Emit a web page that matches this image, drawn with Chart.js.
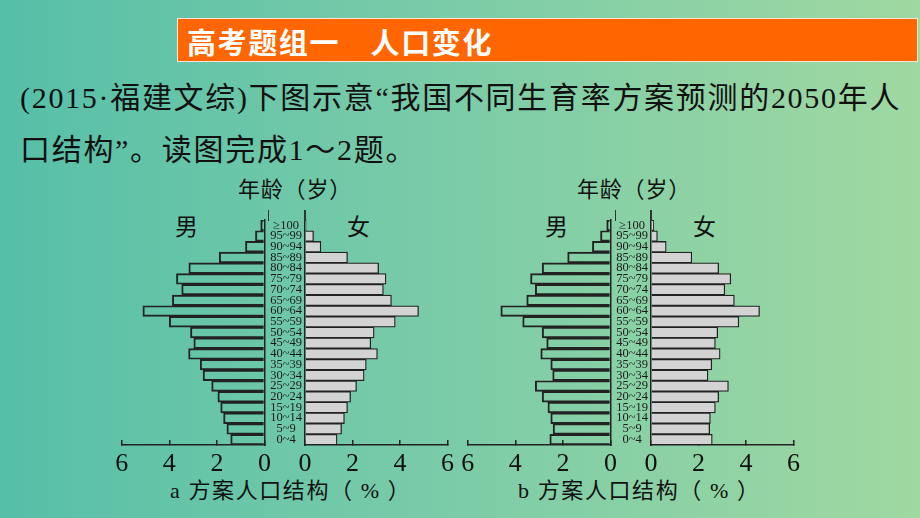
<!DOCTYPE html>
<html>
<head>
<meta charset="utf-8">
<script src="https://cdn.jsdelivr.net/npm/chart.js@4.4.1/dist/chart.umd.min.js"></script>
<style>
  html, body { margin: 0; padding: 0; }
  body {
    width: 920px; height: 518px; overflow: hidden; position: relative;
    background: linear-gradient(90deg, #56bfa8 0%, #7ccca8 50%, #a0d8a1 100%);
    font-family: "Liberation Serif", "Noto Sans CJK SC", serif;
    color: #111;
  }
  .abs { position: absolute; white-space: nowrap; }
  #titlebar {
    left: 177px; top: 18px; width: 741px; height: 44px;
    background: #ff6600; border: 1px solid #f6e6d8;
    color: #fff; font-family: "Noto Sans CJK SC", sans-serif; font-weight: bold;
    font-size: 29px; letter-spacing: 1.6px; line-height: 44px; padding-left: 9px; box-sizing: border-box;
  }
  .q { left: 20px; font-size: 30px; line-height: 34px; letter-spacing: 1.7px; }
  .lab { font-size: 22px; line-height: 24px; }
  .foot { letter-spacing: 1.6px; }
  .vline { position: absolute; width: 1.5px; background: #333; top: 210px; height: 11px; }
  canvas { position: absolute; }
</style>
</head>
<body>
<div id="titlebar" class="abs">高考题组一　人口变化</div>
<div class="abs q" style="top:81px">(2015·福建文综)下图示意“我国不同生育率方案预测的2050年人</div>
<div class="abs q" style="top:133px">口结构”。读图完成1～2题。</div>

<div class="abs lab" style="left:238px;top:178px;letter-spacing:0.8px">年龄（岁）</div>
<div class="abs lab" style="left:175px;top:216px;font-size:23px">男</div>
<div class="abs lab" style="left:347px;top:216px;font-size:23px">女</div>
<div class="abs lab" style="left:577px;top:178px;letter-spacing:0.8px">年龄（岁）</div>
<div class="abs lab" style="left:545px;top:216px;font-size:23px">男</div>
<div class="abs lab" style="left:693px;top:216px;font-size:23px">女</div>

<div class="abs lab foot" style="left:170px;top:479px">a 方案人口结构（ % ）</div>
<div class="abs lab foot" style="left:518px;top:479px">b 方案人口结构（ % ）</div>

<canvas id="maleA" width="180" height="300" style="left:100px;top:200px"></canvas>
<canvas id="femaleA" width="201" height="300" style="left:262px;top:200px"></canvas>
<canvas id="maleB" width="180" height="300" style="left:446px;top:200px"></canvas>
<canvas id="femaleB" width="201" height="300" style="left:608px;top:200px"></canvas>

<div class="vline" style="left:267.5px"></div>
<div class="vline" style="left:304.3px"></div>
<div class="vline" style="left:614.5px"></div>
<div class="vline" style="left:650px"></div>

<script>
// 年龄组（从低到高）
const ageGroups = ['0~4', '5~9', '10~14', '15~19', '20~24', '25~29', '30~34', '35~39',
  '40~44', '45~49', '50~54', '55~59', '60~64', '65~69', '70~74', '75~79',
  '80~84', '85~89', '90~94', '95~99', '≥100'];

// a 方案 (%)
const maleA = [1.42, 1.58, 1.72, 1.84, 1.96, 2.22, 2.58, 2.70, 3.19, 2.97, 3.11,
  4.00, 5.11, 3.87, 3.48, 3.70, 3.18, 1.90, 0.80, 0.38, 0.16];
const femaleA = [1.35, 1.54, 1.66, 1.79, 1.92, 2.17, 2.49, 2.58, 3.05, 2.77, 2.91,
  3.80, 4.78, 3.64, 3.30, 3.41, 3.10, 1.79, 0.67, 0.36, 0.05];

// b 方案 (%)
const maleB = [2.55, 2.41, 2.51, 2.63, 2.87, 3.16, 2.43, 2.51, 2.93, 2.68, 2.87,
  3.69, 4.61, 3.52, 3.16, 3.36, 2.87, 1.80, 0.76, 0.42, 0.16];
const femaleB = [2.58, 2.47, 2.50, 2.71, 2.85, 3.26, 2.40, 2.56, 2.91, 2.71, 2.81,
  3.70, 4.57, 3.51, 3.11, 3.36, 2.85, 1.72, 0.64, 0.27, 0.12];

// 横轴
const axisMax = 6;
const tickStep = 2;

const lineColor = '#222';

function xAxis(reverse) {
  return {
    min: 0, max: axisMax, reverse: reverse,
    border: { color: lineColor, width: 1.5 },
    grid: { drawOnChartArea: false, drawTicks: true, tickLength: -5, color: lineColor, lineWidth: 1.5 },
    ticks: {
      stepSize: tickStep, color: '#111', padding: 9, maxRotation: 0,
      font: { family: '"Liberation Serif", serif', size: 26 }
    },
    afterFit: s => { s.height = 50; }
  };
}

function half(id, values, isMale, pad) {
  new Chart(document.getElementById(id), {
    type: 'bar',
    data: {
      labels: ageGroups,
      datasets: [{
        data: values,
        backgroundColor: isMale ? 'rgba(0,0,0,0)' : '#d3d3d3',
        borderColor: lineColor,
        borderWidth: 1.3,
        categoryPercentage: 1,
        barPercentage: 1
      }]
    },
    options: {
      indexAxis: 'y',
      responsive: false,
      animation: false,
      layout: { padding: pad },
      plugins: { legend: { display: false }, tooltip: { enabled: false } },
      scales: {
        x: xAxis(isMale),
        y: {
          position: isMale ? 'right' : 'left',
          reverse: true,
          border: { color: lineColor, width: 1.5 },
          grid: { display: false, drawTicks: false },
          ticks: isMale ? { display: false } : {
            crossAlign: 'center', padding: 3, color: '#1a1a1a', autoSkip: false,
            font: { family: '"Liberation Serif", serif', size: 12.5 }
          },
          afterFit: s => { s.width = isMale ? 0 : 43; }
        }
      }
    }
  });
}

half('maleA', maleA, true, { left: 21.7, right: 11.7, top: 20, bottom: 5 });
half('femaleA', femaleA, false, { left: 0, right: 12.3, top: 20, bottom: 5 });
half('maleB', maleB, true, { left: 21.7, right: 10.7, top: 20, bottom: 5 });
half('femaleB', femaleB, false, { left: 0, right: 11.3, top: 20, bottom: 5 });
</script>
</body>
</html>
